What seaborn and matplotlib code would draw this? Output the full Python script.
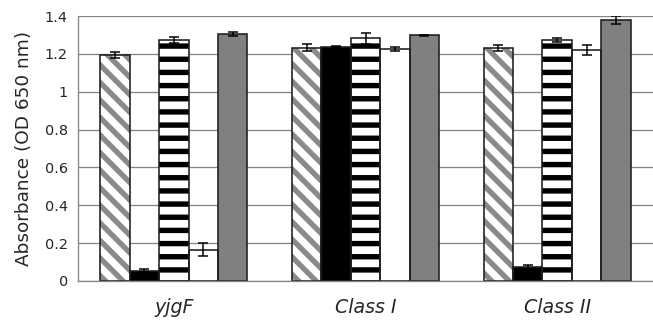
import matplotlib
matplotlib.use('Agg')
import matplotlib.pyplot as plt
from matplotlib.patches import Rectangle
from matplotlib.ticker import FuncFormatter, FixedLocator
import seaborn as sns
import pandas as pd
import numpy as np

groups = ['yjgF', 'Class I', 'Class II']
conditions = ['c1', 'c2', 'c3', 'c4', 'c5']
# absorbance values per condition, in group order
c1_vals = [1.195, 1.232, 1.230]
c2_vals = [0.055, 1.238, 0.075]
c3_vals = [1.275, 1.282, 1.273]
c4_vals = [0.165, 1.225, 1.220]
c5_vals = [1.305, 1.297, 1.380]
c1_err = [0.015, 0.018, 0.015]
c2_err = [0.010, 0.004, 0.012]
c3_err = [0.015, 0.030, 0.010]
c4_err = [0.035, 0.012, 0.025]
c5_err = [0.010, 0.005, 0.020]

vals = [c1_vals, c2_vals, c3_vals, c4_vals, c5_vals]
errs = [c1_err, c2_err, c3_err, c4_err, c5_err]

rows = []
for cond, v, e in zip(conditions, vals, errs):
    for g, vv, ee in zip(groups, v, e):
        rows.append({'group': g, 'condition': cond, 'absorbance': vv, 'err': ee})
df = pd.DataFrame(rows)

# hatch spacing scales with dpi, so the dpi is picked for the stripe density
dpi = 158


def pt(px):
    return px * 72 / dpi


sns.set_style('white')
plt.rcParams['font.family'] = ['DejaVu Sans']
plt.rcParams['hatch.linewidth'] = pt(5.4)

fill_cols = ['white', 'black', 'white', 'white', '#808080']
hatch_cols = ['#8a8a8a', 'black', 'black', 'black', '#808080']
hatches = ['\\\\\\', None, '--', None, None]
edge_col = '#1e1e1e'
axis_col = '#858585'

fig = plt.figure(figsize=(653 / dpi, 321 / dpi), dpi=dpi)
ax = fig.add_axes([78 / 653, 40 / 321, 575 / 653, 265 / 321])
ax.set_axisbelow(True)

sns.barplot(data=df, x='group', y='absorbance', hue='condition', order=groups,
            hue_order=conditions, palette=fill_cols, errorbar=None, width=0.766,
            legend=False, saturation=1, ax=ax)

bar_conts = list(ax.containers)
for ci, cont in enumerate(bar_conts):
    for bi, p in enumerate(cont.patches):
        p.set_facecolor(fill_cols[ci])
        p.set_edgecolor(hatch_cols[ci])
        p.set_linewidth(0)
        if hatches[ci]:
            p.set_hatch(hatches[ci])
        # dark outline drawn over the hatched fill
        ax.add_patch(Rectangle((p.get_x(), p.get_y()), p.get_width(), p.get_height(),
                               fill=False, ec=edge_col, lw=pt(1.6), zorder=p.get_zorder() + 0.1))
        xc = p.get_x() + p.get_width() / 2
        ax.errorbar(xc, vals[ci][bi], yerr=errs[ci][bi], fmt='none', ecolor='black',
                    elinewidth=pt(1.5), capsize=pt(5), capthick=pt(1.5),
                    zorder=p.get_zorder() + 0.2)

ax.set_xlim(-0.5, 2.5)
ax.set_ylim(0, 1.4)
ax.set_yticks(np.arange(0, 1.41, 0.2))
ax.yaxis.set_major_formatter(FuncFormatter(lambda v, pos: f'{v:g}'))
ax.yaxis.grid(True, color=axis_col, lw=pt(1.3))

ax.xaxis.set_minor_locator(FixedLocator([-0.5, 0.5, 1.5, 2.5]))
ax.tick_params(axis='x', which='major', length=0, pad=pt(17), labelsize=pt(19))
ax.tick_params(axis='x', which='minor', length=pt(6), width=pt(1.3), color=axis_col,
               direction='out')
ax.tick_params(axis='y', length=pt(6), width=pt(1.3), color=axis_col, direction='out',
               labelsize=pt(14.5), pad=pt(4))
for lab in ax.get_xticklabels():
    lab.set_fontstyle('italic')

for side in ['top', 'right']:
    ax.spines[side].set_visible(False)
for side in ['left', 'bottom']:
    ax.spines[side].set_color(axis_col)
    ax.spines[side].set_linewidth(pt(1.3))

ax.set_xlabel('')
ax.set_ylabel('Absorbance (OD 650 nm)', fontsize=pt(18.5), labelpad=pt(12))

fig.savefig('out.png', dpi=dpi)
